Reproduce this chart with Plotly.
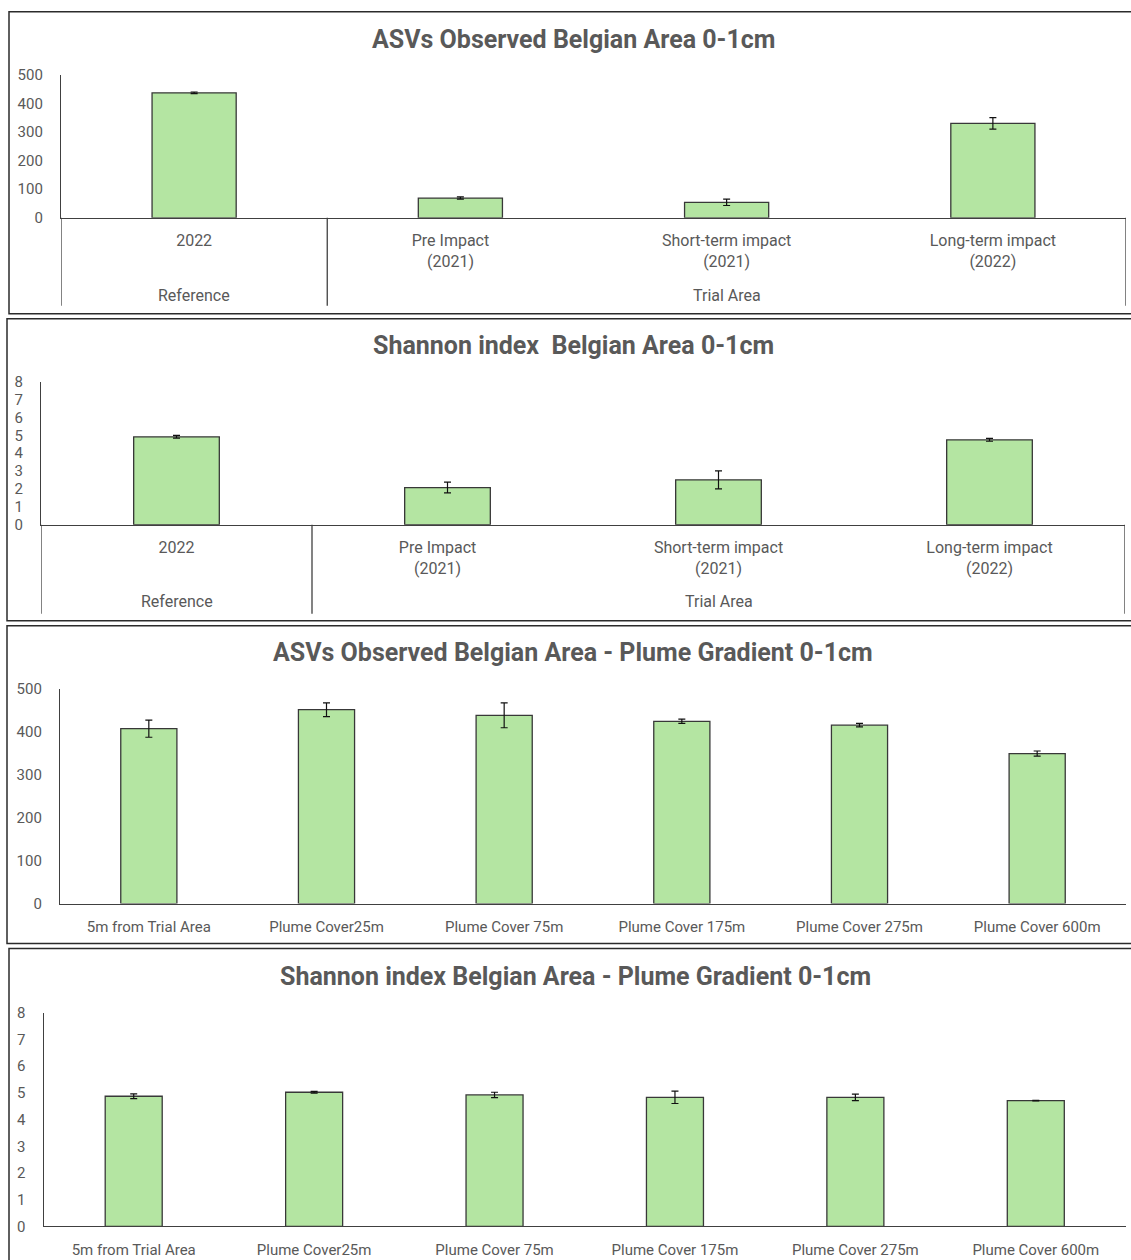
import plotly.graph_objects as go

W, H = 1131, 1260

# ---------------- data ----------------
impact_groups = ["Reference", "Trial Area", "Trial Area", "Trial Area"]
impact_labels = ["2022", "Pre Impact<br>(2021)", "Short-term impact<br>(2021)",
                 "Long-term impact<br>(2022)"]
asv_impact = [437, 69, 54, 330]
asv_impact_err = [3, 4, 11, 20]
shannon_impact = [4.92, 2.08, 2.51, 4.75]
shannon_impact_err = [0.08, 0.3, 0.5, 0.08]

plume_labels = ["5m from Trial Area", "Plume Cover25m", "Plume Cover 75m",
                "Plume Cover 175m", "Plume Cover 275m", "Plume Cover 600m"]
asv_plume = [407, 451, 438, 424, 415, 349]
asv_plume_err = [20, 16, 29, 5, 4, 6]
shannon_plume = [4.87, 5.02, 4.92, 4.83, 4.83, 4.71]
shannon_plume_err = [0.09, 0.03, 0.1, 0.23, 0.12, 0.01]

asv_ticks = [0, 100, 200, 300, 400, 500]
shannon_ticks = [0, 1, 2, 3, 4, 5, 6, 7, 8]

# ---------------- styling ----------------
BAR_FILL = "#b4e5a2"
BAR_EDGE = "#383838"
AXIS = "#404040"
TEXT = "#595959"
TITLE_FONT = dict(family="Roboto, sans-serif", size=25, color=TEXT, weight="bold")
LABEL_FAMILY = "Liberation Sans Narrow, Roboto, sans-serif"
TICK_FAMILY = "Roboto, Liberation Sans, sans-serif"

# trailing padding (in non-breaking spaces) nudging some tick labels left
LABEL_PAD = {"Pre Impact<br>(2021)": 5}

# vertical screen-space to paper conversion
Y_OFFSET = 8.15
Y_SCALE = 0.986


def fx(px):
    return px / W


def fy(py):
    return 1 - ((py - Y_OFFSET) / Y_SCALE) / H


def tick_text(label):
    pad = "&nbsp;" * LABEL_PAD.get(label, 0)
    return "<br>".join(line + pad for line in label.split("<br>"))


panels = [
    dict(title="ASVs Observed Belgian Area 0-1cm", tx=574, ty=39,
         cats=impact_labels, groups=impact_groups, vals=asv_impact, errs=asv_impact_err,
         xpx=(61, 1126), ypx=(74, 217), yrange=[0, 500], ticks=asv_ticks,
         box=(9, 11, 1140, 313), divider_bottom=305, group_y=295,
         label_family=LABEL_FAMILY, label_size=16, ytick_size=15, standoff=8),
    dict(title="Shannon index  Belgian Area 0-1cm", tx=573, ty=345,
         cats=impact_labels, groups=impact_groups, vals=shannon_impact,
         errs=shannon_impact_err,
         xpx=(41, 1125), ypx=(381, 524), yrange=[0, 8], ticks=shannon_ticks,
         box=(7, 318, 1140, 620), divider_bottom=613, group_y=601,
         label_family=LABEL_FAMILY, label_size=16, ytick_size=15, standoff=8),
    dict(title="ASVs Observed Belgian Area - Plume Gradient 0-1cm", tx=573, ty=652,
         cats=plume_labels, groups=None, vals=asv_plume, errs=asv_plume_err,
         xpx=(60, 1126), ypx=(688, 903), yrange=[0, 500], ticks=asv_ticks,
         box=(7, 625, 1140, 943), divider_bottom=None, group_y=None,
         label_family=TICK_FAMILY, label_size=15, ytick_size=15, standoff=9),
    dict(title="Shannon index Belgian Area - Plume Gradient 0-1cm", tx=575, ty=976,
         cats=plume_labels, groups=None, vals=shannon_plume, errs=shannon_plume_err,
         xpx=(43.5, 1126), ypx=(1012, 1226), yrange=[0, 8], ticks=shannon_ticks,
         box=(9, 948, 1140, 1290), divider_bottom=None, group_y=None,
         label_family=TICK_FAMILY, label_size=15, ytick_size=15, standoff=9),
]

fig = go.Figure()
shapes = []
annotations = []

for i, p in enumerate(panels, start=1):
    xa = "x" if i == 1 else f"x{i}"
    ya = "y" if i == 1 else f"y{i}"
    xkey = "xaxis" if i == 1 else f"xaxis{i}"
    ykey = "yaxis" if i == 1 else f"yaxis{i}"

    fig.add_trace(go.Bar(
        x=p["cats"], y=p["vals"], xaxis=xa, yaxis=ya,
        marker=dict(color=BAR_FILL, line=dict(color=BAR_EDGE, width=1.3)),
        error_y=dict(type="data", array=p["errs"], visible=True,
                     color="#111111", thickness=1.2, width=3.5),
        showlegend=False, hoverinfo="x+y",
    ))

    n = len(p["cats"])
    fig.update_layout(**{
        xkey: dict(domain=[fx(p["xpx"][0]), fx(p["xpx"][1])], anchor=ya,
                   type="category", range=[-0.5, n - 0.5],
                   tickvals=p["cats"], ticktext=[tick_text(c) for c in p["cats"]],
                   showline=True, linecolor=AXIS, linewidth=1.3,
                   showgrid=False, zeroline=False, ticks="",
                   ticklabelstandoff=p["standoff"],
                   tickfont=dict(family=p["label_family"], size=p["label_size"], color=TEXT),
                   fixedrange=True),
        ykey: dict(domain=[fy(p["ypx"][1]), fy(p["ypx"][0])], anchor=xa,
                   range=p["yrange"], tickvals=p["ticks"],
                   showline=True, linecolor=AXIS, linewidth=1.3,
                   showgrid=False, zeroline=False, ticks="",
                   ticklabelstandoff=14,
                   tickfont=dict(family=TICK_FAMILY, size=p["ytick_size"], color=TEXT),
                   fixedrange=True),
    })

    # chart title
    annotations.append(dict(text=p["title"], x=fx(p["tx"]), y=fy(p["ty"]),
                            xref="paper", yref="paper", xanchor="center",
                            yanchor="middle", showarrow=False, font=TITLE_FONT))

    # outer frame of the chart
    x0, y0, x1, y1 = p["box"]
    shapes.append(dict(type="rect", xref="paper", yref="paper",
                       x0=fx(x0), x1=fx(x1), y0=fy(y0), y1=fy(y1),
                       line=dict(color="#2b2b2b", width=1.5)))

    # two-level category axis: group dividers and group labels
    if p["groups"]:
        groups = p["groups"]
        base = fy(p["ypx"][1])
        bottom = fy(p["divider_bottom"])
        bounds = [-0.5] + [k + 0.5 for k in range(n - 1)
                           if groups[k] != groups[k + 1]] + [n - 0.5]
        for b in bounds:
            shapes.append(dict(type="line", xref=xa, yref="paper",
                               x0=b, x1=b, y0=base, y1=bottom,
                               line=dict(color=AXIS, width=1.3)))
        start = 0
        for k in range(1, n + 1):
            if k == n or groups[k] != groups[start]:
                annotations.append(dict(text=groups[start], x=(start + k - 1) / 2,
                                        y=fy(p["group_y"]), xref=xa, yref="paper",
                                        xanchor="center", yanchor="middle",
                                        showarrow=False,
                                        font=dict(family=p["label_family"],
                                                  size=p["label_size"], color=TEXT)))
                start = k

fig.update_layout(
    width=W, height=H,
    margin=dict(l=0, r=0, t=0, b=0),
    paper_bgcolor="white", plot_bgcolor="white",
    bargap=0.684,
    shapes=shapes, annotations=annotations,
    showlegend=False,
)

fig.write_html("out.html", include_plotlyjs=True,
               config={"displayModeBar": False})
